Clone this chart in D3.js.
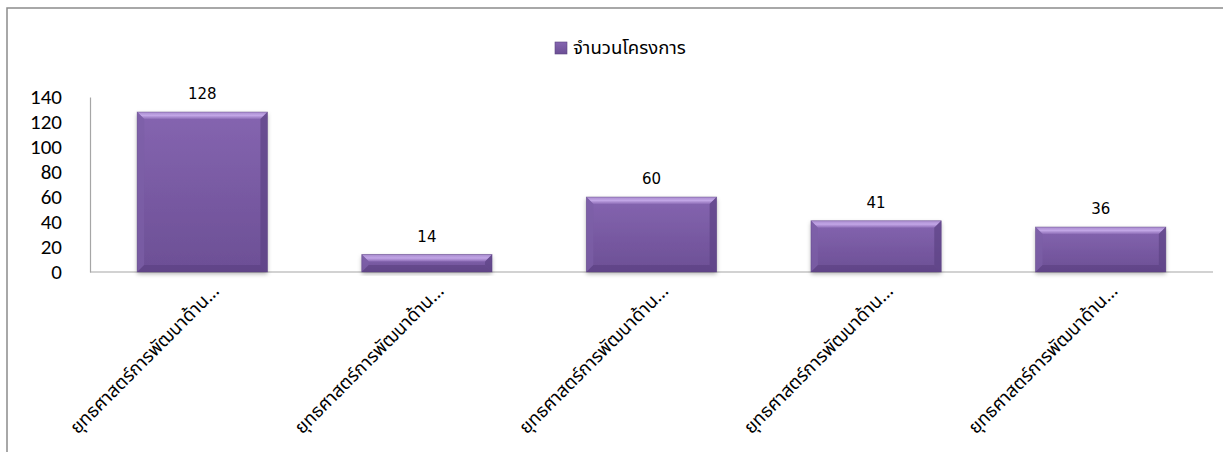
<!DOCTYPE html>
<html><head><meta charset="utf-8">
<script src="https://cdn.jsdelivr.net/npm/d3@7"></script>
<style>
body{margin:0;background:#fff;}
svg{display:block;font-family:Tahoma,"Noto Sans Thai","Noto Sans","DejaVu Sans",sans-serif;}
</style></head>
<body>
<svg id="chart" width="1223" height="452"></svg>
<script>
const categories = [
  "ยุทธศาสตร์การพัฒนาด้าน...",
  "ยุทธศาสตร์การพัฒนาด้าน...",
  "ยุทธศาสตร์การพัฒนาด้าน...",
  "ยุทธศาสตร์การพัฒนาด้าน...",
  "ยุทธศาสตร์การพัฒนาด้าน..."
];
const values = [128, 14, 60, 41, 36];
const seriesName = "จำนวนโครงการ";
const yTicks = [0, 20, 40, 60, 80, 100, 120, 140];

const svg = d3.select("#chart");
const plotTop = 97, plotBottom = 272, plotLeft = 90, plotRight = 1213;

// outer frame
svg.append("rect").attr("x", 7).attr("y", 8).attr("width", 1300).attr("height", 600)
  .attr("fill", "#fff").attr("stroke", "#8c8c8c").attr("stroke-width", 1.5);

const defs = svg.append("defs");
const g1 = defs.append("linearGradient").attr("id", "barGrad").attr("x1", 0).attr("y1", 0).attr("x2", 0).attr("y2", 1);
g1.append("stop").attr("offset", "0%").attr("stop-color", "#8565b0");
g1.append("stop").attr("offset", "100%").attr("stop-color", "#6c4f95");
const g2 = defs.append("linearGradient").attr("id", "topGrad").attr("x1", 0).attr("y1", 0).attr("x2", 0).attr("y2", 1);
g2.append("stop").attr("offset", "0%").attr("stop-color", "#a88bce");
g2.append("stop").attr("offset", "50%").attr("stop-color", "#c2a6e6");
g2.append("stop").attr("offset", "100%").attr("stop-color", "#8c6cb6");
const f = defs.append("filter").attr("id", "shadow").attr("x", "-10%").attr("y", "-10%").attr("width", "120%").attr("height", "130%");
f.append("feDropShadow").attr("dx", 0).attr("dy", 2).attr("stdDeviation", 2).attr("flood-color", "#000").attr("flood-opacity", 0.3);

const x = d3.scaleBand().domain(d3.range(categories.length)).range([plotLeft, plotRight]).paddingInner(0.42).paddingOuter(0.21);
const y = d3.scaleLinear().domain([0, 140]).range([plotBottom, plotTop]);

// y axis labels
const yAxis = d3.axisLeft(y).tickValues(yTicks).tickSize(0).tickPadding(28);
const ya = svg.append("g").attr("transform", `translate(${plotLeft},0)`).call(yAxis);
ya.select(".domain").attr("stroke", "#a6a6a6").attr("stroke-width", 1.2);
ya.selectAll("text").attr("font-size", 21).attr("fill", "#000")
  .attr("font-family", "Carlito,Calibri,'Open Sans',sans-serif");

// baseline
svg.append("line").attr("x1", plotLeft).attr("x2", plotRight).attr("y1", y(0)).attr("y2", y(0))
  .attr("stroke", "#a6a6a6").attr("stroke-width", 1.2);

// bars
const bars = svg.append("g").selectAll("g").data(values).join("g");
bars.each(function(d, i) {
  const gg = d3.select(this);
  const x0 = x(i), w = x.bandwidth(), y0 = y(d), h = y(0) - y(d);
  const b = Math.min(7, h / 2);
  gg.append("rect").attr("x", x0).attr("y", y0).attr("width", w).attr("height", h)
    .attr("fill", "url(#barGrad)").attr("filter", "url(#shadow)");
  gg.append("path").attr("d", `M${x0},${y0}L${x0 + w},${y0}L${x0 + w - b},${y0 + b}L${x0 + b},${y0 + b}Z`)
    .attr("fill", "url(#topGrad)");
  gg.append("path").attr("d", `M${x0},${y0}L${x0 + b},${y0 + b}L${x0 + b},${y0 + h - b}L${x0},${y0 + h}Z`)
    .attr("fill", "#7c5fa6").attr("opacity", 0.7);
  gg.append("path").attr("d", `M${x0 + w},${y0}L${x0 + w - b},${y0 + b}L${x0 + w - b},${y0 + h - b}L${x0 + w},${y0 + h}Z`)
    .attr("fill", "#5d4385").attr("opacity", 0.7);
  gg.append("path").attr("d", `M${x0},${y0 + h}L${x0 + b},${y0 + h - b}L${x0 + w - b},${y0 + h - b}L${x0 + w},${y0 + h}Z`)
    .attr("fill", "#5a4080").attr("opacity", 0.6);
  gg.append("rect").attr("x", x0).attr("y", y0).attr("width", w).attr("height", h)
    .attr("fill", "none").attr("stroke", "#5b4380").attr("stroke-width", 0.8).attr("opacity", 0.5);
});

// value labels
svg.append("g").selectAll("text").data(values).join("text")
  .attr("x", (d, i) => x(i) + x.bandwidth() / 2)
  .attr("y", d => y(d) - 13)
  .attr("text-anchor", "middle").attr("font-size", 15).attr("fill", "#000")
  .attr("font-family", "'DejaVu Sans',Verdana,sans-serif")
  .text(d => d);

// category labels
const cl = svg.append("g").selectAll("text").data(categories).join("text")
  .attr("transform", (d, i) => `translate(${x(i) + x.bandwidth() / 2 + 18},${y(0) + 20}) rotate(-45)`)
  .attr("text-anchor", "end").attr("font-size", 14).attr("fill", "#000")
  .text(d => d);
cl.each(function() {
  const len = this.getComputedTextLength();
  if (len > 0) d3.select(this).attr("font-size", 14 * 202 / len);
});

// legend
const lg = svg.append("g").attr("transform", "translate(555,42)");
lg.append("rect").attr("width", 12).attr("height", 12).attr("fill", "url(#barGrad)").attr("stroke", "#5b4380").attr("stroke-width", 0.6);
const lt = lg.append("text").attr("x", 18).attr("y", 12).attr("font-size", 14).attr("fill", "#000").text(seriesName);
const ll = lt.node().getComputedTextLength();
if (ll > 0) lt.attr("font-size", 14 * 113 / ll);
</script>
</body></html>
